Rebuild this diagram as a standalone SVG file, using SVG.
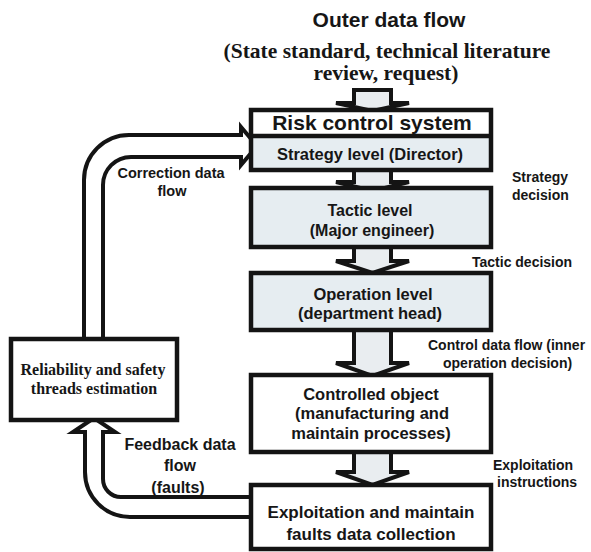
<svg xmlns="http://www.w3.org/2000/svg" width="591" height="552" viewBox="0 0 591 552">
  <style>
    .box { stroke: #141414; stroke-width: 4.5; }
    .tint { fill: #e6edf1; }
    .plain { fill: #ffffff; }
    .flow { fill: #ffffff; stroke: #141414; stroke-width: 4; stroke-linejoin: miter; }
    .down { fill: #e9edf0; stroke: #141414; stroke-width: 4; stroke-linejoin: miter; }
    .t { font-family: "Liberation Sans", Arial, sans-serif; font-weight: bold; fill: #161616; }
    .s { font-family: "Liberation Serif", "Times New Roman", serif; font-weight: bold; fill: #161616; }
    .mid { text-anchor: middle; }
  </style>
  <rect width="591" height="552" fill="#ffffff"/>

  <!-- Heading: outer data flow -->
  <g id="outer-flow">
    <text class="t mid" x="389" y="27" font-size="21">Outer data flow</text>
    <text class="s mid" x="387" y="58" font-size="21.5">(State standard, technical literature</text>
    <text class="s mid" x="386" y="80" font-size="21.5">review, request)</text>
  </g>

  <!-- Connectors -->
  <g id="connectors">
    <!-- inlet into the risk control system -->
    <path class="down" d="M354,90 H391 V103 H409 L372.5,111 L336,103 H354 Z"/>
    <!-- strategy -> tactic -->
    <path class="down" d="M354,168 V182 H336 L372.5,191 L409,182 H391 V168"/>
    <!-- tactic -> operation -->
    <path class="down" d="M354,245 V261 H336 L372.5,273 L409,261 H391 V245"/>
    <!-- operation -> controlled object -->
    <path class="down" d="M354,328 V363 H336 L372.5,376 L409,363 H391 V328"/>
    <!-- controlled object -> faults data collection -->
    <path class="down" d="M354,450 V472 H336 L372.5,485 L409,472 H391 V450"/>
    <!-- correction data flow -->
    <path class="flow" d="M84,340 V180 A45,45 0 0 1 129,135 H241 V127 L257,146 L241,165 V157 H131 A28,28 0 0 0 103,185 V340 Z"/>
    <!-- feedback data flow -->
    <path class="flow" d="M252,497 H121 A18,18 0 0 1 103,479 V432 H115 L94,418 L73,432 H85 V472 A45,45 0 0 0 130,517 H252 Z"/>
  </g>

  <g id="risk-control-system">
    <rect class="tint" x="251" y="110" width="240" height="60"/>
    <rect class="plain" x="251" y="110" width="240" height="26"/>
    <line x1="251" y1="136" x2="491" y2="136" stroke="#141414" stroke-width="4.5"/>
    <rect class="box" x="251" y="110" width="240" height="60" fill="none"/>
    <text class="t mid" x="372" y="130" font-size="21">Risk control system</text>
    <text class="t mid" x="370" y="160" font-size="16.5">Strategy level (Director)</text>
  </g>

  <g id="tactic-level">
    <rect class="box tint" x="251" y="188" width="240" height="59"/>
    <text class="t mid" x="370" y="216" font-size="16">Tactic level</text>
    <text class="t mid" x="372" y="236" font-size="16">(Major engineer)</text>
  </g>

  <g id="operation-level">
    <rect class="box tint" x="251" y="273" width="240" height="57"/>
    <text class="t mid" x="373" y="300" font-size="16.5">Operation level</text>
    <text class="t mid" x="370" y="319" font-size="16.5">(department head)</text>
  </g>

  <g id="controlled-object">
    <rect class="box plain" x="251" y="375" width="240" height="77"/>
    <text class="t mid" x="371" y="400" font-size="16.5">Controlled object</text>
    <text class="t mid" x="372" y="419" font-size="16.5">(manufacturing and</text>
    <text class="t mid" x="371" y="439" font-size="16.5">maintain processes)</text>
  </g>

  <g id="faults-data-collection">
    <rect class="box plain" x="251" y="485" width="240" height="64"/>
    <text class="t mid" x="371" y="518" font-size="17">Exploitation and maintain</text>
    <text class="t mid" x="371" y="540" font-size="17">faults data collection</text>
  </g>

  <g id="reliability-estimation">
    <rect class="box plain" x="11" y="339" width="166" height="81"/>
    <text class="s mid" x="93" y="375" font-size="16">Reliability and safety</text>
    <text class="s mid" x="94" y="394" font-size="16">threads estimation</text>
  </g>

  <!-- Flow labels -->
  <g id="labels">
    <text class="t" x="512" y="182" font-size="14">Strategy</text>
    <text class="t" x="512" y="200" font-size="14">decision</text>
    <text class="t" x="472" y="267" font-size="14">Tactic decision</text>
    <text class="t" x="428" y="350" font-size="14">Control data flow (inner</text>
    <text class="t" x="443" y="368" font-size="14">operation decision)</text>
    <text class="t" x="493" y="470" font-size="14">Exploitation</text>
    <text class="t" x="497" y="487" font-size="14">instructions</text>
    <text class="t mid" x="171" y="178" font-size="14.5">Correction data</text>
    <text class="t mid" x="172" y="196" font-size="14.5">flow</text>
    <text class="t mid" x="180" y="450" font-size="16">Feedback data</text>
    <text class="t mid" x="180" y="471" font-size="16">flow</text>
    <text class="t mid" x="178" y="493" font-size="16">(faults)</text>
  </g>
</svg>
